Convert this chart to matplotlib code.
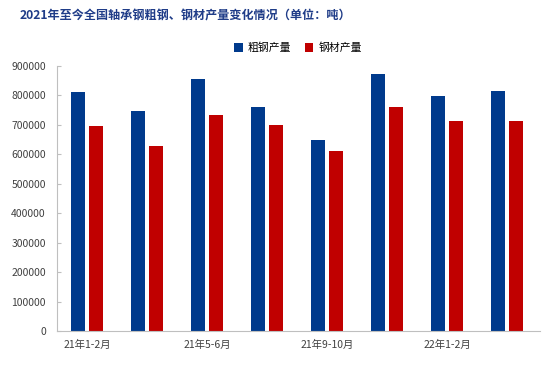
import matplotlib
matplotlib.use("Agg")
import matplotlib.pyplot as plt
import numpy as np

plt.rcParams['font.family'] = ['Noto Sans CJK SC', 'DejaVu Sans']

# data (tonnes)
periods = ["21年1-2月", "21年3-4月", "21年5-6月", "21年7-8月",
           "21年9-10月", "21年11-12月", "22年1-2月", "22年3-4月"]
crude_steel = [811000, 747000, 856000, 761000, 649000, 873000, 798000, 815000]
steel_products = [696000, 628000, 734000, 700000, 611000, 761000, 713000, 713000]

blue = "#003a8c"
red = "#c00000"

fig = plt.figure(figsize=(5.52, 3.84), dpi=100)
ax = fig.add_axes([57 / 552, 1 - 331 / 384, 483 / 552, 265 / 384])

x = np.arange(len(periods))
w = 0.225
ax.bar(x - 0.146, crude_steel, w, color=blue, label="粗钢产量")
ax.bar(x + 0.146, steel_products, w, color=red, label="钢材产量")

ax.set_xlim(-0.5, len(periods) - 0.45)
ax.set_ylim(0, 900000)
ax.set_yticks(np.arange(0, 900001, 100000))
ax.set_yticklabels([str(v) for v in range(0, 900001, 100000)])
ax.set_xticks(x[::2])
ax.set_xticklabels(periods[::2])

for s in ["top", "right"]:
    ax.spines[s].set_visible(False)
for s in ["left", "bottom"]:
    ax.spines[s].set_color("#bfbfbf")
    ax.spines[s].set_linewidth(0.8)

ax.tick_params(axis="y", direction="in", length=3, color="#bfbfbf",
               labelsize=7.5, labelcolor="#404040", pad=8)
ax.tick_params(axis="x", length=0, labelsize=7.5, labelcolor="#404040", pad=6)

fig.text(20 / 552, 1 - 16 / 384, "2021年至今全国轴承钢粗钢、钢材产量变化情况（单位：吨）",
         color="#1f3c88", fontsize=8.7, fontweight="bold", va="center", ha="left")

ax.legend(loc="center", bbox_to_anchor=(298 / 552, 1 - 48 / 384),
          bbox_transform=fig.transFigure, ncol=2, frameon=False,
          fontsize=7.8, handlelength=0.8, handleheight=0.8, columnspacing=1.2,
          handletextpad=0.5)

fig.savefig("out.png", dpi=100)
